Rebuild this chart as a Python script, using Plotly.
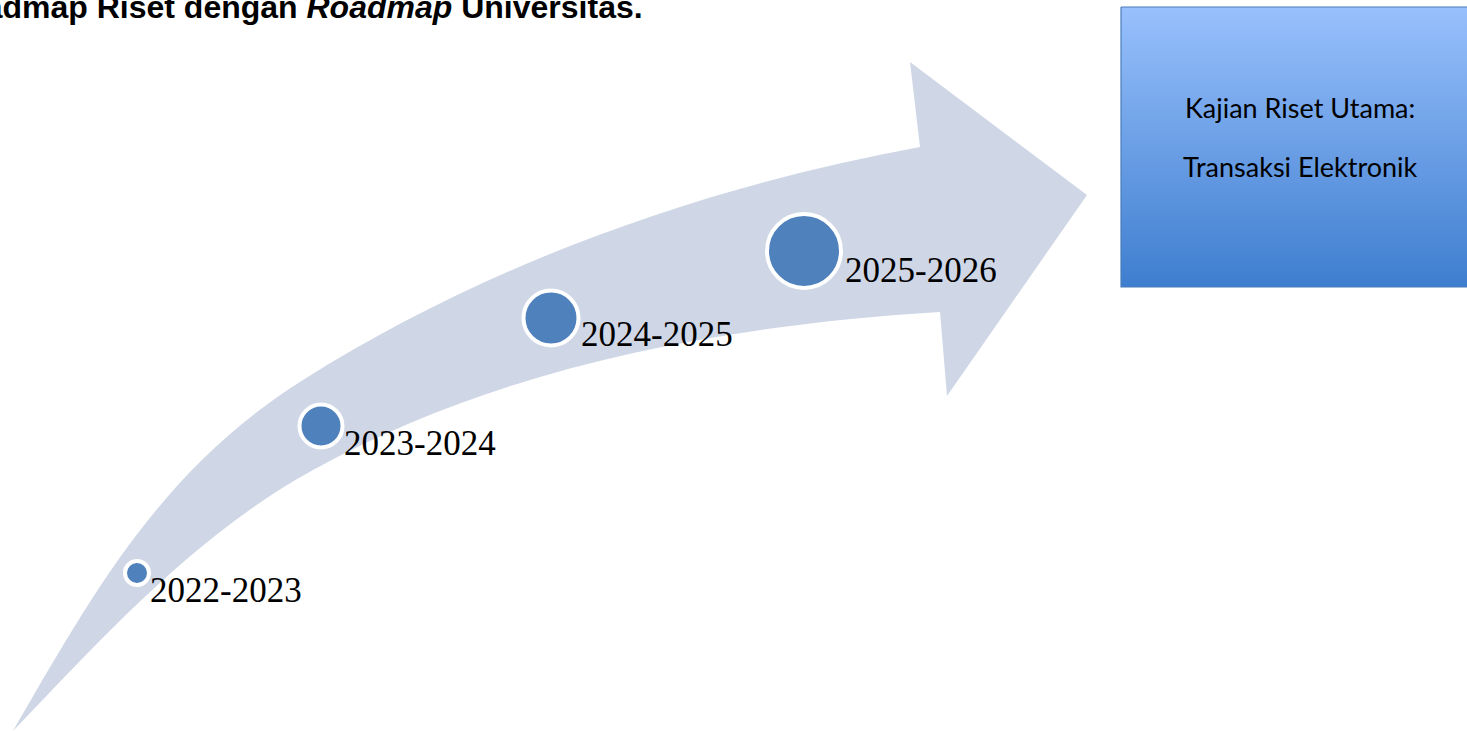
import plotly.graph_objects as go

# ---- content -------------------------------------------------------------
periods = ["2022-2023", "2023-2024", "2024-2025", "2025-2026"]
box_lines = ["Kajian Riset Utama:", "Transaksi Elektronik"]
title_text = "Roadmap Riset dengan <i>Roadmap</i> Universitas."

# ---- geometry (pixel space of the reference: x right, y down) -------------
dot_x = [137, 321, 551, 804]
dot_y = [573, 426, 318, 251]
dot_size = [24, 43, 55, 74]
label_x = [148, 342, 579, 843]
label_y = [590, 443, 334, 270]
box_line_y = [107, 166]

box_x = [1121, 1480, 1480, 1121, 1121]
box_y = [7, 7, 287, 287, 7]

BAND = "#CFD6E6"
DOT = "#4F81BD"

# curved arrow outline (cubic Bezier segments + straight arrow head)
arrow_path = (
    "M 13,731 "
    "C 95.5,588 163.4,468 303,380 "
    "C 489,263 703.5,186.6 920,147 "
    "L 910,62 L 1087,195 L 947,396 L 940,312 "
    "C 725.4,325 501,366 313,470 "
    "C 196.5,534 105,635 13,731 Z"
)

fig = go.Figure()

fig.add_shape(type="path", path=arrow_path, xref="x", yref="y",
              fillcolor=BAND, line=dict(width=0), layer="below")

# gradient box
fig.add_trace(go.Scatter(
    x=box_x, y=box_y, mode="lines", line=dict(width=1.2, color="#4A7DBA"),
    fill="toself",
    fillgradient=dict(type="vertical", colorscale=[[0, "#3E7ECF"], [1, "#98C0FC"]],
                      start=287, stop=7),
    hoverinfo="skip", showlegend=False))
# milestone dots
fig.add_trace(go.Scatter(
    x=dot_x, y=dot_y, mode="markers",
    marker=dict(size=dot_size, color=DOT, opacity=1, line=dict(color="white", width=4)),
    hoverinfo="skip", showlegend=False))

for t, lx, ly in zip(periods, label_x, label_y):
    fig.add_annotation(x=lx, y=ly, text=t, showarrow=False, xanchor="left", yanchor="middle",
                       font=dict(family="Liberation Serif", size=35, color="black"))

for t, ly in zip(box_lines, box_line_y):
    fig.add_annotation(x=1300, y=ly, text=t, showarrow=False, xanchor="center", yanchor="middle",
                       font=dict(family="Lato", size=27, color="black"))

fig.add_annotation(x=645, y=7, text=title_text, showarrow=False, xanchor="right", yanchor="middle",
                   font=dict(family="Liberation Sans", size=32, color="black", weight="bold"))

fig.update_layout(
    width=1467, height=731,
    margin=dict(l=0, r=0, t=0, b=0),
    paper_bgcolor="white", plot_bgcolor="white",
    xaxis=dict(range=[0, 1467], visible=False, fixedrange=True),
    yaxis=dict(range=[731, 0], visible=False, fixedrange=True),
    showlegend=False,
)

fig.write_html("out.html", config={"displayModeBar": False},
               post_script="document.body.style.margin='0px';document.body.style.overflow='hidden';")
